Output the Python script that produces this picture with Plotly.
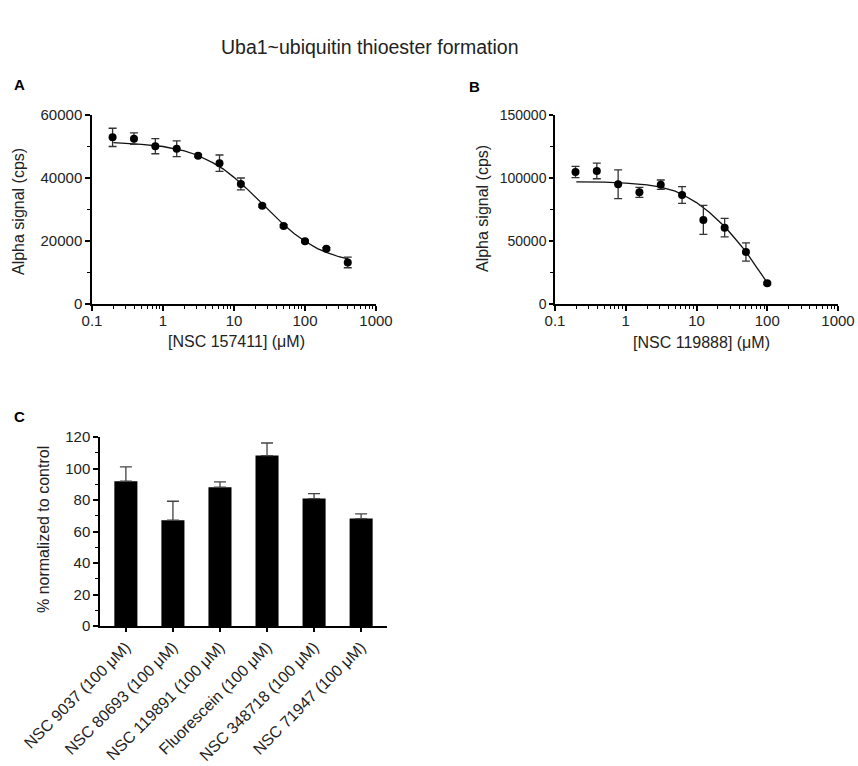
import plotly.graph_objects as go

# ---- Panel A data: NSC 157411 ----
conc_A = [0.195, 0.39, 0.78, 1.56, 3.125, 6.25, 12.5, 25, 50, 100, 200, 400]
signal_A = [52900, 52500, 50100, 49300, 47100, 44700, 38100, 31200, 24800, 19900, 17500, 13200]
err_A = [2900, 1800, 2400, 2500, 400, 2600, 1900, 400, 400, 400, 400, 1700]
fit_x_A = [0.2, 0.5, 1, 2, 3, 5, 7, 10, 15, 20, 25, 30, 40, 50, 70, 100, 150, 200, 300, 400]
fit_y_A = [51200, 50700, 50000, 48600, 47300, 44900, 42900, 40200, 36700, 33900, 31800,
           30000, 27200, 25200, 22400, 19900, 17600, 16400, 15000, 14300]

# ---- Panel B data: NSC 119888 ----
conc_B = [0.195, 0.39, 0.78, 1.56, 3.125, 6.25, 12.5, 25, 50, 100]
signal_B = [104800, 105600, 95000, 88600, 94700, 86500, 66700, 60600, 41300, 16400]
err_B = [4500, 6200, 11400, 4000, 3700, 6600, 11500, 7400, 7200, 1000]
fit_x_B = [0.2, 0.5, 1, 2, 3, 5, 7, 10, 15, 20, 25, 35, 50, 70, 100]
fit_y_B = [97000, 96800, 96000, 94500, 93000, 89500, 85500, 80500, 73000, 66500, 61500,
           52000, 41500, 29500, 17000]

# ---- Panel C data ----
compounds = ["NSC 9037 (100 μM)", "NSC 80693 (100 μM)", "NSC 119891 (100 μM)",
             "Fluorescein (100 μM)", "NSC 348718 (100 μM)", "NSC 71947 (100 μM)"]
pct = [91.9, 67.2, 88.1, 108.2, 80.9, 68.2]
pct_err = [9.1, 12.0, 3.4, 8.0, 3.2, 3.0]

# tick labels
log_tickvals = [0.1, 1, 10, 100, 1000]
log_ticktext = ["0.1", "1", "10", "100", "1000"]
log_minor = [m * d for d in [0.1, 1, 10, 100] for m in range(2, 10)]

W, H = 858, 766
FONT = "Liberation Sans, Arial, sans-serif"


def px(x):
    return x / W


def py(y):
    return 1 - y / H


def xd(a, b):
    return [px(a), px(b)]


def yd(top, bottom):
    return [py(bottom), py(top)]


fig = go.Figure()

ebar = dict(type="data", thickness=1.3, width=4, color="#333333")

fig.add_trace(go.Scatter(x=fit_x_A, y=fit_y_A, mode="lines", line=dict(color="#111111", width=1.3),
                         xaxis="x", yaxis="y", showlegend=False, hoverinfo="skip"))
fig.add_trace(go.Scatter(x=conc_A, y=signal_A, mode="markers",
                         marker=dict(color="black", size=8),
                         error_y=dict(array=err_A, **ebar),
                         xaxis="x", yaxis="y", showlegend=False))

fig.add_trace(go.Scatter(x=fit_x_B, y=fit_y_B, mode="lines", line=dict(color="#111111", width=1.3),
                         xaxis="x2", yaxis="y2", showlegend=False, hoverinfo="skip"))
fig.add_trace(go.Scatter(x=conc_B, y=signal_B, mode="markers",
                         marker=dict(color="black", size=8),
                         error_y=dict(array=err_B, **ebar),
                         xaxis="x2", yaxis="y2", showlegend=False))

fig.add_trace(go.Bar(x=list(range(len(compounds))), y=pct, width=0.49,
                     marker=dict(color="black", line=dict(width=0)),
                     error_y=dict(type="data", array=pct_err, symmetric=False,
                                  arrayminus=[0] * len(pct), thickness=1.3, width=6, color="#444444"),
                     xaxis="x3", yaxis="y3", showlegend=False))

axis_common = dict(showline=True, linecolor="black", linewidth=1.5, ticks="outside",
                   tickcolor="black", tickwidth=1.5, ticklen=5, showgrid=False, zeroline=False,
                   automargin=False, ticklabeloverflow="allow",
                   tickfont=dict(family=FONT, size=15, color="#222"))

minor_style = dict(ticks="outside", ticklen=3, tickcolor="black", tickwidth=1.2)

log_x = dict(type="log", range=[-1, 3], tickvals=log_tickvals, ticktext=log_ticktext,
             minor=dict(tickvals=log_minor, **minor_style), ticklabelstandoff=-3,
             **axis_common)


def ann(text, x, y, size=16, angle=0, bold=False, color="#222"):
    return dict(text=f"<b>{text}</b>" if bold else text, x=px(x), y=py(y), xref="paper", yref="paper",
                showarrow=False, textangle=angle, font=dict(family=FONT, size=size, color=color),
                xanchor="center", yanchor="middle")


fig.update_layout(
    width=W, height=H, margin=dict(l=0, r=0, t=0, b=0, autoexpand=False),
    paper_bgcolor="white", plot_bgcolor="white",
    xaxis=dict(domain=xd(92, 376), anchor="y", **log_x),
    yaxis=dict(domain=yd(115, 304), anchor="x", range=[0, 60000],
               tickvals=[0, 20000, 40000, 60000], ticktext=["0", "20000", "40000", "60000"],
               minor=dict(tickvals=[10000, 30000, 50000], **minor_style), **axis_common),
    xaxis2=dict(domain=xd(555, 838), anchor="y2", **log_x),
    yaxis2=dict(domain=yd(115, 304), anchor="x2", range=[0, 150000],
                tickvals=[0, 50000, 100000, 150000], ticktext=["0", "50000", "100000", "150000"],
                minor=dict(tickvals=[25000, 75000, 125000], **minor_style),
                **{**axis_common, "ticklen": 4, "tickfont": dict(family=FONT, size=14, color="#222")}),
    xaxis3=dict(domain=xd(100, 387), anchor="y3", range=[-0.55, 5.55],
                tickvals=list(range(len(compounds))), ticktext=compounds, tickangle=-45,
                **{**axis_common, "ticklen": 4, "tickfont": dict(family=FONT, size=16, color="#222")}),
    yaxis3=dict(domain=yd(437, 626), anchor="x3", range=[0, 120], dtick=20,
                minor=dict(dtick=10, **minor_style), **axis_common),
    annotations=[
        ann("Uba1~ubiquitin thioester formation", 370, 47, size=19.5),
        ann("A", 19, 85, size=15, bold=True, color="black"),
        ann("B", 475, 86, size=15, bold=True, color="black"),
        ann("C", 19, 416, size=15, bold=True, color="black"),
        ann("Alpha signal (cps)", 18, 212, angle=-90),
        ann("Alpha signal (cps)", 482, 208, angle=-90),
        ann("% normalized to control", 43, 530, angle=-90),
        ann("[NSC 157411] (μM)", 236, 341),
        ann("[NSC 119888] (μM)", 701, 343),
    ],
)

fig.write_html("out.html", config={"displayModeBar": False},
               post_script="document.body.style.margin='0';document.body.style.overflow='hidden';")
